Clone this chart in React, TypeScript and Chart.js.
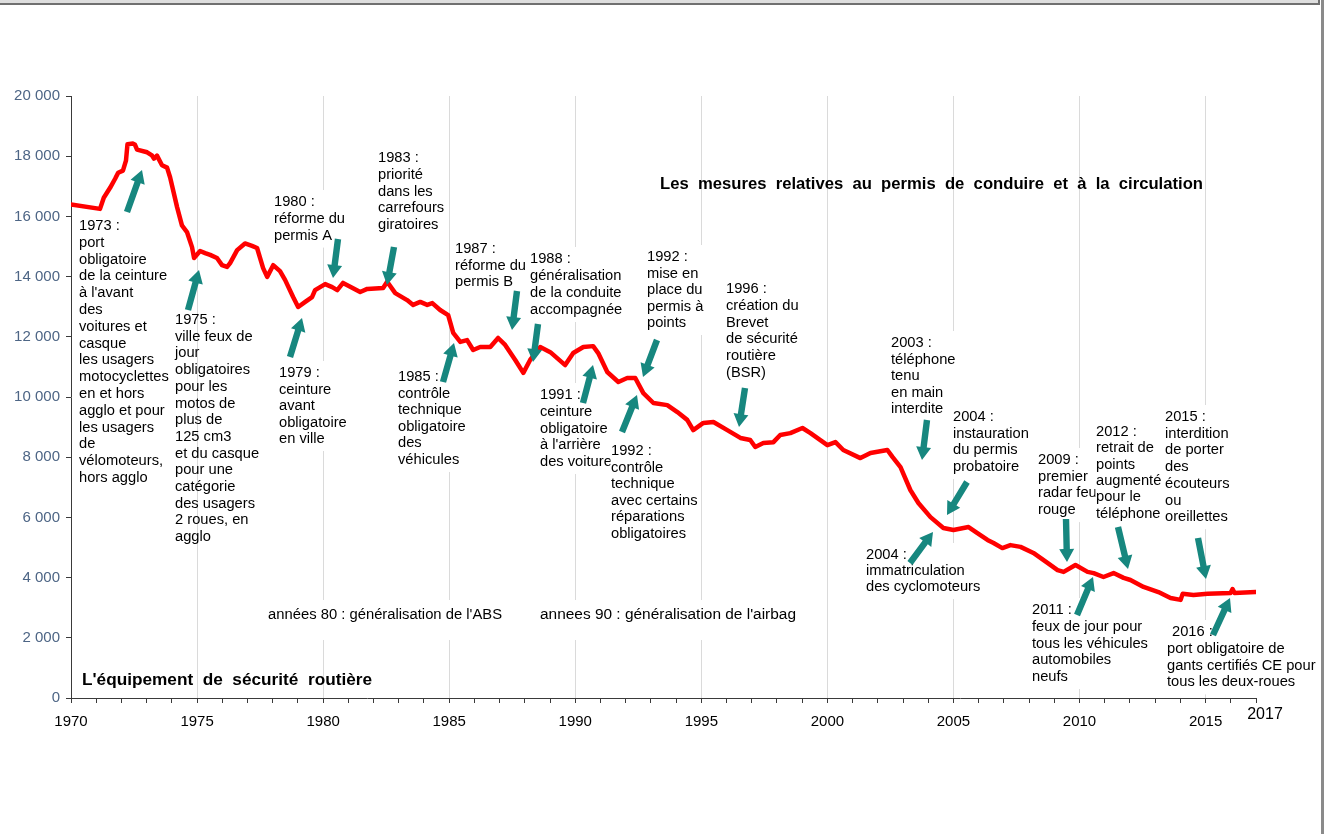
import React, { useEffect, useRef } from "react";
import { Chart, registerables } from "chart.js";

Chart.register(...registerables);

const W = 1325;
const H = 834;

// ---- data ----
const YEARS = [
  1970.0, 1971.15, 1971.3, 1971.55, 1971.75, 1971.87, 1972.06, 1972.18, 1972.24, 1972.46,
  1972.54, 1972.62, 1973.02, 1973.21, 1973.29, 1973.41, 1973.61, 1973.81, 1973.93, 1974.21,
  1974.4, 1974.6, 1974.8, 1974.88, 1975.12, 1975.32, 1975.52, 1975.79, 1975.99, 1976.19,
  1976.31, 1976.59, 1976.9, 1977.18, 1977.38, 1977.62, 1977.78, 1978.02, 1978.29, 1978.49,
  1978.81, 1979.01, 1979.29, 1979.56, 1979.68, 1980.08, 1980.36, 1980.56, 1980.79, 1981.47,
  1981.75, 1982.38, 1982.54, 1982.86, 1983.33, 1983.57, 1983.85, 1984.13, 1984.33, 1984.64,
  1984.96, 1985.16, 1985.44, 1985.71, 1985.95, 1986.23, 1986.63, 1986.94, 1987.22, 1987.62,
  1987.94, 1988.21, 1988.61, 1989.01, 1989.6, 1989.92, 1990.32, 1990.71, 1990.91, 1991.27,
  1991.71, 1992.06, 1992.38, 1992.7, 1993.1, 1993.65, 1994.05, 1994.44, 1994.68, 1995.08,
  1995.48, 1996.03, 1996.55, 1996.94, 1997.14, 1997.46, 1997.86, 1998.13, 1998.53, 1999.01,
  1999.33, 1999.72, 2000.0, 2000.32, 2000.63, 2001.31, 2001.71, 2002.38, 2002.58, 2002.9,
  2003.29, 2003.61, 2004.09, 2004.6, 2005.0, 2005.6, 2005.95, 2006.35, 2006.59, 2006.94,
  2007.26, 2007.66, 2008.17, 2008.73, 2009.13, 2009.37, 2009.84, 2010.32, 2010.56, 2010.95,
  2011.35, 2011.75, 2012.02, 2012.54, 2013.13, 2013.61, 2014.01, 2014.09, 2014.52, 2015.08,
  2015.99, 2016.07, 2016.15, 2016.98,
];

const DEATHS = [
  16400, 16250, 16620, 16950, 17250, 17450, 17520, 17850, 18400, 18420,
  18380, 18220, 18130, 18030, 17920, 18020, 17700, 17620, 17300, 16300,
  15700, 15480, 14980, 14620, 14850, 14780, 14720, 14620, 14380, 14320,
  14450, 14880, 15100, 15020, 14950, 14280, 13990, 14380, 14180, 13890,
  13320, 12990, 13160, 13320, 13550, 13750, 13650, 13550, 13790, 13490,
  13590, 13620, 13830, 13450, 13220, 13060, 13160, 13060, 13120, 12890,
  12720, 12130, 11830, 11890, 11560, 11660, 11660, 11960, 11730, 11230,
  10800, 11230, 11660, 11490, 11060, 11460, 11660, 11690, 11460, 10830,
  10500, 10630, 10630, 10130, 9800, 9730, 9500, 9240, 8900, 9140,
  9170, 8900, 8640, 8570, 8340, 8470, 8500, 8740, 8800, 8970,
  8800, 8570, 8400, 8500, 8240, 7970, 8140, 8240, 8010, 7670,
  6910, 6480, 6010, 5650, 5580, 5680, 5480, 5250, 5150, 4980,
  5080, 5020, 4820, 4490, 4250, 4190, 4420, 4190, 4150, 4020,
  4150, 3990, 3920, 3690, 3520, 3320, 3260, 3460, 3420, 3460,
  3490, 3620, 3490, 3520,
];

const X_MIN = 1970;
const X_MAX = 2017;
const X_LABEL_STEP = 5;
const X_END_LABEL = "2017";
const Y_MIN = 0;
const Y_MAX = 20000;
const Y_STEP = 2000;

const TITLE_TOP = "Les  mesures  relatives  au  permis  de  conduire  et  à  la  circulation";
const TITLE_BOTTOM = "L'équipement  de  sécurité  routière";
const ABS_NOTE = "années 80 : généralisation de l'ABS";
const AIRBAG_NOTE = "annees 90 : généralisation de l'airbag";

// ---- annotation layout (pixels) ----
type Note = { x: number; y: number; lh: number; bg: boolean; lines: string[]; firstIndent?: number };

const NOTES: Note[] = [
  { x: 79, y: 226, lh: 16.8, bg: false, lines: ["1973 :", "port", "obligatoire", "de la ceinture", "à l'avant", "des", "voitures et", "casque", "les usagers", "motocyclettes", "en et hors", "agglo et pour", "les usagers", "de", "vélomoteurs,", "hors agglo"] },
  { x: 175, y: 320, lh: 16.7, bg: false, lines: ["1975 :", "ville feux de", "jour", "obligatoires", "pour les", "motos de", "plus de", "125 cm3", "et du casque", "pour une", "catégorie", "des usagers", "2 roues, en", "agglo"] },
  { x: 279, y: 373, lh: 16.5, bg: true, lines: ["1979 :", "ceinture", "avant", "obligatoire", "en ville"] },
  { x: 274, y: 202, lh: 16.8, bg: true, lines: ["1980 :", "réforme du", "permis A"] },
  { x: 378, y: 158, lh: 16.8, bg: true, lines: ["1983 :", "priorité", "dans les", "carrefours", "giratoires"] },
  { x: 398, y: 377, lh: 16.6, bg: true, lines: ["1985 :", "contrôle", "technique", "obligatoire", "des", "véhicules"] },
  { x: 455, y: 249, lh: 16.5, bg: true, lines: ["1987 :", "réforme du", "permis B"] },
  { x: 530, y: 259, lh: 17, bg: true, lines: ["1988 :", "généralisation", "de la conduite", "accompagnée"] },
  { x: 540, y: 395, lh: 16.75, bg: true, lines: ["1991 :", "ceinture", "obligatoire", "à l'arrière", "des voitures"] },
  { x: 611, y: 451, lh: 16.6, bg: true, lines: ["1992 :", "contrôle", "technique", "avec certains", "réparations", "obligatoires"] },
  { x: 647, y: 257, lh: 16.5, bg: true, lines: ["1992 :", "mise en", "place du", "permis à", "points"] },
  { x: 726, y: 289, lh: 16.8, bg: true, lines: ["1996 :", "création du", "Brevet", "de sécurité", "routière", "(BSR)"] },
  { x: 891, y: 343, lh: 16.5, bg: true, lines: ["2003 :", "téléphone", "tenu", "en main", "interdite"] },
  { x: 953, y: 417, lh: 16.7, bg: true, lines: ["2004 :", "instauration", "du permis", "probatoire"] },
  { x: 866, y: 555, lh: 16, bg: true, lines: ["2004 :", "immatriculation", "des cyclomoteurs"] },
  { x: 1038, y: 460, lh: 16.7, bg: true, lines: ["2009 :", "premier", "radar feu", "rouge"] },
  { x: 1096, y: 432, lh: 16.3, bg: true, lines: ["2012 :", "retrait de", "points", "augmenté", "pour le", "téléphone"] },
  { x: 1165, y: 417, lh: 16.7, bg: true, lines: ["2015 :", "interdition", "de porter", "des", "écouteurs", "ou", "oreillettes"] },
  { x: 1032, y: 610, lh: 16.75, bg: true, lines: ["2011 :", "feux de jour pour", "tous les véhicules", "automobiles", "neufs"] },
  { x: 1167, y: 632, lh: 16.8, bg: true, firstIndent: 5, lines: ["2016 :", "port obligatoire de", "gants certifiés CE pour", "tous les deux-roues"] },
];

// tail x, tail y, tip x, tip y
const ARROWS: number[][] = [
  [127, 212, 142, 170],
  [188, 310, 199, 270],
  [338, 239, 333, 278],
  [290, 357, 302, 318],
  [394, 247, 387, 285],
  [443, 382, 454, 343],
  [517, 291, 512, 330],
  [538, 324, 533, 362],
  [583, 403, 593, 365],
  [622, 432, 637, 395],
  [657, 340, 643, 377],
  [745, 388, 739, 427],
  [927, 420, 922, 460],
  [967, 482, 947, 515],
  [910, 563, 933, 532],
  [1066, 519, 1067, 562],
  [1077, 615, 1093, 577],
  [1118, 527, 1128, 569],
  [1198, 538, 1206, 579],
  [1213, 635, 1230, 598],
];

const FONT = '"Liberation Sans", Arial, Helvetica, sans-serif';
const ARROW_COLOR = "#17877f";
const NOTE_FONT_SIZE = 14.7;

function fmtThousands(v: number): string {
  return String(v).replace(/\B(?=(\d{3})+(?!\d))/g, " ");
}

function drawFit(ctx: CanvasRenderingContext2D, text: string, x: number, y: number, w: number, font: string) {
  ctx.font = font;
  const m = ctx.measureText(text).width;
  const s = m > 0 ? w / m : 1;
  ctx.save();
  ctx.translate(x, y);
  ctx.scale(s, 1);
  ctx.fillText(text, 0, 0);
  ctx.restore();
}

function drawArrow(ctx: CanvasRenderingContext2D, x1: number, y1: number, x2: number, y2: number) {
  const dx = x2 - x1;
  const dy = y2 - y1;
  const L = Math.hypot(dx, dy);
  const ux = dx / L;
  const uy = dy / L;
  const nx = -uy;
  const ny = ux;
  const hl = 13;
  const hw = 7.5;
  const sw = 3.2;
  const bx = x2 - ux * hl;
  const by = y2 - uy * hl;
  ctx.beginPath();
  ctx.moveTo(x1 + nx * sw, y1 + ny * sw);
  ctx.lineTo(bx + nx * sw, by + ny * sw);
  ctx.lineTo(bx + nx * hw, by + ny * hw);
  ctx.lineTo(x2, y2);
  ctx.lineTo(bx - nx * hw, by - ny * hw);
  ctx.lineTo(bx - nx * sw, by - ny * sw);
  ctx.lineTo(x1 - nx * sw, y1 - ny * sw);
  ctx.closePath();
  ctx.fill();
}

const annotatePlugin = {
  id: "annotate",
  beforeDraw(chart: any) {
    const ctx: CanvasRenderingContext2D = chart.ctx;
    ctx.save();
    ctx.fillStyle = "#ffffff";
    ctx.fillRect(0, 0, W, H);
    ctx.restore();
  },
  beforeDatasetsDraw(chart: any) {
    const ctx: CanvasRenderingContext2D = chart.ctx;
    ctx.save();
    ctx.textBaseline = "middle";
    ctx.textAlign = "left";
    const font = `${NOTE_FONT_SIZE}px ${FONT}`;
    ctx.font = font;
    for (const n of NOTES) {
      if (n.bg) {
        let maxW = 0;
        n.lines.forEach((l, i) => {
          const w = ctx.measureText(l).width + (i === 0 && n.firstIndent ? n.firstIndent : 0);
          if (w > maxW) maxW = w;
        });
        ctx.fillStyle = "#ffffff";
        ctx.fillRect(n.x - 0.5, n.y - 12, maxW + 4, (n.lines.length - 1) * n.lh + 24);
      }
      ctx.fillStyle = "#000000";
      n.lines.forEach((l, i) => {
        const ix = i === 0 && n.firstIndent ? n.firstIndent : 0;
        ctx.fillText(l, n.x + ix, n.y + i * n.lh);
      });
    }
    // bottom notes with white boxes
    ctx.fillStyle = "#ffffff";
    ctx.fillRect(262, 600, 246, 40);
    ctx.fillRect(534, 600, 268, 40);
    ctx.fillStyle = "#000000";
    drawFit(ctx, ABS_NOTE, 268, 615, 234, `14px ${FONT}`);
    drawFit(ctx, AIRBAG_NOTE, 540, 615, 256, `14px ${FONT}`);
    // titles
    drawFit(ctx, TITLE_TOP, 660, 184, 543, `bold 17px ${FONT}`);
    drawFit(ctx, TITLE_BOTTOM, 82, 680, 290, `bold 17px ${FONT}`);
    ctx.restore();
  },
  afterDatasetsDraw(chart: any) {
    const ctx: CanvasRenderingContext2D = chart.ctx;
    ctx.save();
    ctx.fillStyle = ARROW_COLOR;
    for (const a of ARROWS) drawArrow(ctx, a[0], a[1], a[2], a[3]);
    ctx.restore();
  },
  afterDraw(chart: any) {
    const ctx: CanvasRenderingContext2D = chart.ctx;
    const xs = chart.scales.x;
    ctx.save();
    // end label
    ctx.fillStyle = "#000000";
    ctx.font = `16px ${FONT}`;
    ctx.textAlign = "center";
    ctx.textBaseline = "middle";
    ctx.fillText(X_END_LABEL, xs.getPixelForValue(X_MAX) + 9, 715);
    // frame
    ctx.fillStyle = "#dedede";
    ctx.fillRect(0, 0, 1320, 3);
    ctx.fillStyle = "#707070";
    ctx.fillRect(0, 3, 1320, 2);
    ctx.fillRect(1318, 0, 2, 5);
    ctx.fillStyle = "#8a8a8a";
    ctx.fillRect(1321, 0, 3, H);
    ctx.restore();
  },
};

export default function App() {
  const canvasRef = useRef<HTMLCanvasElement | null>(null);

  useEffect(() => {
    const canvas = canvasRef.current;
    if (!canvas) return;
    const points = YEARS.map((x, i) => ({ x, y: DEATHS[i] }));
    const chart = new Chart(canvas, {
      type: "line",
      data: {
        datasets: [
          {
            data: points,
            borderColor: "#ff0000",
            borderWidth: 4.5,
            pointRadius: 0,
            tension: 0,
            fill: false,
            borderJoinStyle: "round",
            borderCapStyle: "round",
          },
        ],
      },
      options: {
        animation: false,
        responsive: false,
        devicePixelRatio: 1,
        layout: { padding: { top: 96, right: 69, left: 0, bottom: 0 } },
        plugins: { legend: { display: false }, tooltip: { enabled: false }, title: { display: false } },
        scales: {
          x: {
            type: "linear",
            min: X_MIN,
            max: X_MAX,
            afterFit: (s: any) => {
              s.height = 136;
            },
            border: { color: "#3a3a3a", width: 1 },
            grid: {
              color: (c: any) =>
                c.tick && c.tick.value % X_LABEL_STEP === 0 && c.tick.value !== X_MIN ? "#dadada" : "rgba(0,0,0,0)",
              tickColor: "#3a3a3a",
              tickLength: 5,
              lineWidth: 1,
            },
            ticks: {
              stepSize: 1,
              autoSkip: false,
              maxRotation: 0,
              minRotation: 0,
              padding: 10,
              color: "#000000",
              font: { family: FONT, size: 15 },
              callback: (v: any) => (Number(v) % X_LABEL_STEP === 0 ? String(v) : ""),
            },
          },
          y: {
            min: Y_MIN,
            max: Y_MAX,
            afterFit: (s: any) => {
              s.width = 71;
            },
            border: { color: "#3a3a3a", width: 1 },
            grid: { drawOnChartArea: false, tickColor: "#3a3a3a", tickLength: 5 },
            ticks: {
              stepSize: Y_STEP,
              padding: 6,
              color: "#4d6585",
              font: { family: FONT, size: 15 },
              callback: (v: any) => fmtThousands(Number(v)),
            },
          },
        },
      },
      plugins: [annotatePlugin],
    } as any);
    return () => chart.destroy();
  }, []);

  return (
    <div style={{ position: "absolute", left: 0, top: 0, width: W, height: H }}>
      <canvas ref={canvasRef} width={W} height={H} style={{ width: W, height: H, display: "block" }} />
    </div>
  );
}
